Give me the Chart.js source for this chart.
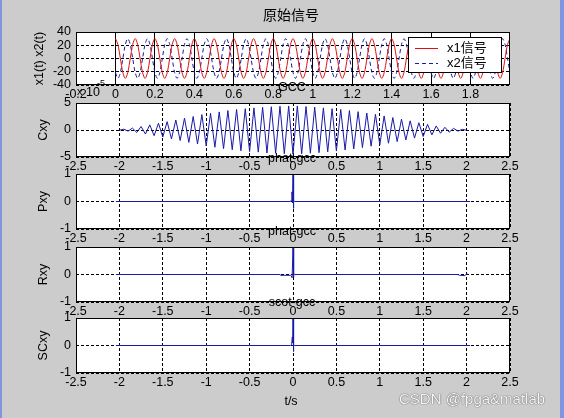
<!DOCTYPE html>
<html>
<head>
<meta charset="utf-8">
<script src="https://cdn.jsdelivr.net/npm/chart.js@4"></script>
<style>
html, body { margin: 0; padding: 0; }
body { width: 564px; height: 418px; background: #cccccc; position: relative; overflow: hidden; }
canvas { position: absolute; left: 0; top: 0; }
#edgeL { position: absolute; left: 0; top: 0; width: 2px; height: 418px; background: #8096e0; }
#edgeR { position: absolute; left: 560px; top: 0; width: 4px; height: 418px; background: #8096e0; }
#mark { position: absolute; left: 399px; top: 390px; font: 15px "Liberation Sans", Arial, sans-serif; color: #f6f6f6; text-shadow: 0 0 1px #555, 0 0 1px #555; white-space: nowrap; }
</style>
</head>
<body>
<div id="edgeL"></div>
<div id="edgeR"></div>
<canvas id="c1" width="564" height="418"></canvas>
<canvas id="c2" width="564" height="418"></canvas>
<canvas id="c3" width="564" height="418"></canvas>
<canvas id="c4" width="564" height="418"></canvas>
<canvas id="c5" width="564" height="418"></canvas>
<div id="mark">CSDN @fpga&amp;matlab</div>
<script>
// ---- data ----
// original signals, sampled every 0.0125 s from t = 0
const sigStart = 0, sigStep = 0.0125;
const x1Values = [
  30,21.2,0,-21.2,-30,-21.2,0,21.2, 30,21.2,0,-21.2,-30,-21.2,0,21.2,
  30,21.2,0,-21.2,-30,-21.2,0,21.2, 30,21.2,0,-21.2,-30,-21.2,0,21.2,
  30,21.2,0,-21.2,-30,-21.2,0,21.2, 30,21.2,0,-21.2,-30,-21.2,0,21.2,
  30,21.2,0,-21.2,-30,-21.2,0,21.2, 30,21.2,0,-21.2,-30,-21.2,0,21.2,
  30,21.2,0,-21.2,-30,-21.2,0,21.2, 30,21.2,0,-21.2,-30,-21.2,0,21.2,
  30,21.2,0,-21.2,-30,-21.2,0,21.2, 30,21.2,0,-21.2,-30,-21.2,0,21.2,
  30,21.2,0,-21.2,-30,-21.2,0,21.2, 30,21.2,0,-21.2,-30,-21.2,0,21.2,
  30,21.2,0,-21.2,-30,-21.2,0,21.2, 30,21.2,0,-21.2,-30,-21.2,0,21.2,
  30,21.2,0,-21.2,-30,-21.2,0,21.2, 30,21.2,0,-21.2,-30,-21.2,0,21.2,
  30,21.2,0,-21.2,-30,-21.2,0,21.2, 30,21.2,0,-21.2,-30,-21.2,0,21.2,
  30
];
const x2Values = [
  -21.2,-30,-21.2,0,21.2,30,21.2,0, -21.2,-30,-21.2,0,21.2,30,21.2,0,
  -21.2,-30,-21.2,0,21.2,30,21.2,0, -21.2,-30,-21.2,0,21.2,30,21.2,0,
  -21.2,-30,-21.2,0,21.2,30,21.2,0, -21.2,-30,-21.2,0,21.2,30,21.2,0,
  -21.2,-30,-21.2,0,21.2,30,21.2,0, -21.2,-30,-21.2,0,21.2,30,21.2,0,
  -21.2,-30,-21.2,0,21.2,30,21.2,0, -21.2,-30,-21.2,0,21.2,30,21.2,0,
  -21.2,-30,-21.2,0,21.2,30,21.2,0, -21.2,-30,-21.2,0,21.2,30,21.2,0,
  -21.2,-30,-21.2,0,21.2,30,21.2,0, -21.2,-30,-21.2,0,21.2,30,21.2,0,
  -21.2,-30,-21.2,0,21.2,30,21.2,0, -21.2,-30,-21.2,0,21.2,30,21.2,0,
  -21.2,-30,-21.2,0,21.2,30,21.2,0, -21.2,-30,-21.2,0,21.2,30,21.2,0,
  -21.2,-30,-21.2,0,21.2,30,21.2,0, -21.2,-30,-21.2,0,21.2,30,21.2,0,
  -21.2
];

// GCC (units of 1e-5), peaks/troughs every 0.05 s of lag from -2
const lagStart = -2, lagStep = 0.05;
const cxyValues = [
  -0.05,0.15,-0.2,0.35,-0.45,0.65,-0.75,0.95,-1.05,1.25,
  -1.3,1.55,-1.65,1.85,-1.95,2.2,-2.3,2.5,-2.6,2.85,
  -2.95,3.1,-3.2,3.35,-3.45,3.6,-3.65,3.8,-3.85,3.95,
  -4.0,4.1,-4.1,4.2,-4.25,4.3,-4.3,4.4,-4.4,4.45,
  -4.5,
  4.45,-4.4,4.35,-4.3,4.25,-4.2,4.1,-4.05,3.95,-3.9,
  3.8,-3.7,3.6,-3.5,3.4,-3.25,3.15,-3.0,2.9,-2.75,
  2.6,-2.45,2.3,-2.15,2.0,-1.85,1.7,-1.5,1.35,-1.2,
  1.05,-0.9,0.75,-0.6,0.5,-0.4,0.3,-0.2,0.12,-0.05
];

// PHAT / SCOT: flat with a spike at zero lag
const pxyLags   = [-2.04, -0.03, -0.02, -0.012, -0.006, 0, 0.004, 0.01, 0.02, 2.04];
const pxyValues = [0, 0, 0.05, 0.35, -0.05, 1, -0.25, 0.03, 0, 0];
const rxyLags   = [-2.04, -0.15, -0.14, -0.03, -0.02, -0.01, 0, 0.005, 0.01, 0.02, 1.9, 1.92, 1.98, 2.0, 2.02];
const rxyValues = [0, 0, -0.03, -0.03, -0.05, -0.12, 1, -0.1, 0.02, 0, 0, -0.03, -0.04, 0.02, 0];
const scxyLags   = [-2.04, -0.03, -0.015, -0.008, -0.004, 0, 0.004, 0.01, 0.02, 2.04];
const scxyValues = [0, 0, 0.05, 0.3, 0.1, 1, -0.22, 0.02, 0, 0];

// ticks
const sigXTicks = [-0.2, 0, 0.2, 0.4, 0.6, 0.8, 1, 1.2, 1.4, 1.6, 1.8];
const sigYTicks = [-40, -20, 0, 20, 40];
const lagXTicks = [-2.5, -2, -1.5, -1, -0.5, 0, 0.5, 1, 1.5, 2, 2.5];
const cxyYTicks = [-5, 0, 5];
const unitYTicks = [-1, 0, 1];

// ---- drawing ----
const FONT = '"Liberation Sans", Arial, "Noto Sans CJK SC", sans-serif';
const RED = '#e01010';
const BLUE = '#1a1aa8';
const YW = 40, XH = 20;   // fixed axis box sizes

const framePlugin = {
  id: 'frame',
  beforeDraw(chart) {
    const a = chart.chartArea, c = chart.ctx;
    c.save();
    c.fillStyle = '#fff';
    c.fillRect(a.left, a.top, a.right - a.left, a.bottom - a.top);
    c.restore();
  },
  afterDraw(chart, args, o) {
    const a = chart.chartArea, c = chart.ctx;
    c.save();
    c.strokeStyle = '#000';
    c.lineWidth = 1;
    c.setLineDash([]);
    c.strokeRect(a.left + 0.5, a.top + 0.5, a.right - a.left - 1, a.bottom - a.top - 1);
    c.fillStyle = '#000';
    c.textAlign = 'center';
    c.textBaseline = 'middle';
    c.font = '12.5px ' + FONT;
    if (o.title) c.fillText(o.title, 292, a.top - 15);
    if (o.ylabel) {
      c.translate(o.ylabelX, (a.top + a.bottom) / 2);
      c.rotate(-Math.PI / 2);
      c.fillText(o.ylabel, 0, 0);
    }
    c.restore();
    if (o.extra) {
      c.save();
      o.extra(c, a);
      c.restore();
    }
  }
};

function axis(min, max, ticks, horiz, dash) {
  return {
    type: 'linear',
    min: min,
    max: max,
    afterFit(s) { if (horiz) s.height = XH; else s.width = YW; },
    afterBuildTicks(s) { s.ticks = ticks.map(v => ({ value: v })); },
    ticks: {
      padding: horiz ? 2 : 5,
      autoSkip: false,
      maxRotation: 0,
      minRotation: 0,
      color: '#000',
      font: { family: FONT, size: 12.5 },
      callback: v => String(v)
    },
    grid: { color: '#000', lineWidth: 1, drawTicks: false },
    border: { display: false, dash: dash }
  };
}

function series(xs, ys, color, dash, tension) {
  return {
    data: ys.map((y, i) => ({ x: xs[i], y: y })),
    borderColor: color,
    borderWidth: 1,
    borderDash: dash || [],
    pointRadius: 0,
    tension: tension || 0,
    fill: false
  };
}

function makeChart(id, box, datasets, xAxis, yAxis, frame) {
  return new Chart(document.getElementById(id), {
    type: 'line',
    data: { datasets: datasets },
    options: {
      responsive: false,
      animation: false,
      devicePixelRatio: 1,
      events: [],
      layout: { padding: { left: box[0] - YW, top: box[1], right: 564 - box[2], bottom: 418 - box[3] - XH } },
      plugins: { legend: { display: false }, tooltip: { enabled: false }, frame: frame },
      scales: { x: xAxis, y: yAxis }
    },
    plugins: [framePlugin]
  });
}

const sigTimes = x1Values.map((_, i) => sigStart + i * sigStep);
const cxyLags = cxyValues.map((_, i) => lagStart + i * lagStep);

// 1: original signals
makeChart('c1', [76, 32, 510, 85],
  [series(sigTimes, x1Values, RED, [], 0.3),
   series(sigTimes, x2Values, BLUE, [4, 3], 0.3)],
  axis(-0.2, 2, sigXTicks, true, []),
  axis(-40, 40, sigYTicks, false, [3, 2]),
  {
    ylabel: 'x1(t) x2(t)', ylabelX: 40,
    extra(c, a) {
      // main title
      c.fillStyle = '#000';
      c.textAlign = 'center';
      c.textBaseline = 'middle';
      c.font = '14px "Noto Sans CJK SC", ' + FONT;
      c.fillText('原始信号', 291, 15);
      // legend
      c.fillStyle = '#fff';
      c.fillRect(408, 37, 94, 36);
      c.strokeStyle = '#000';
      c.lineWidth = 1;
      c.strokeRect(408.5, 37.5, 93, 35);
      c.strokeStyle = RED;
      c.beginPath(); c.moveTo(415, 48.5); c.lineTo(438, 48.5); c.stroke();
      c.strokeStyle = BLUE;
      c.setLineDash([4, 3]);
      c.beginPath(); c.moveTo(415, 63.5); c.lineTo(438, 63.5); c.stroke();
      c.setLineDash([]);
      c.fillStyle = '#000';
      c.textAlign = 'left';
      c.font = '13px ' + FONT;
      c.fillText('x1信号', 447, 48);
      c.fillText('x2信号', 447, 63);
    }
  });

// 2: GCC
makeChart('c2', [76, 103, 510, 157],
  [series(cxyLags, cxyValues, BLUE)],
  axis(-2.5, 2.5, lagXTicks, true, [3, 2]),
  axis(-5, 5, cxyYTicks, false, [3, 2]),
  {
    title: 'GCC', ylabel: 'Cxy', ylabelX: 44,
    extra(c, a) {
      c.fillStyle = '#000';
      c.textBaseline = 'alphabetic';
      c.textAlign = 'left';
      c.font = '11px ' + FONT;
      c.fillText('x', 77, 95);
      c.font = '12.5px ' + FONT;
      c.fillText('10', 86, 96);
      c.font = '9px ' + FONT;
      c.fillText('-5', 97, 86);
    }
  });

// 3: PHAT
makeChart('c3', [76, 174, 510, 229],
  [series(pxyLags, pxyValues, BLUE)],
  axis(-2.5, 2.5, lagXTicks, true, [3, 2]),
  axis(-1, 1, unitYTicks, false, [3, 2]),
  { title: 'phat-gcc', ylabel: 'Pxy', ylabelX: 44 });

// 4: PHAT
makeChart('c4', [76, 247, 510, 302],
  [series(rxyLags, rxyValues, BLUE)],
  axis(-2.5, 2.5, lagXTicks, true, [3, 2]),
  axis(-1, 1, unitYTicks, false, [3, 2]),
  { title: 'phat-gcc', ylabel: 'Rxy', ylabelX: 44 });

// 5: SCOT
makeChart('c5', [76, 318, 510, 373],
  [series(scxyLags, scxyValues, BLUE)],
  axis(-2.5, 2.5, lagXTicks, true, [3, 2]),
  axis(-1, 1, unitYTicks, false, [3, 2]),
  {
    title: 'scot-gcc', ylabel: 'SCxy', ylabelX: 44,
    extra(c, a) {
      c.fillStyle = '#000';
      c.textAlign = 'center';
      c.textBaseline = 'middle';
      c.font = '12.5px ' + FONT;
      c.fillText('t/s', 291, 402);
    }
  });
</script>
</body>
</html>
